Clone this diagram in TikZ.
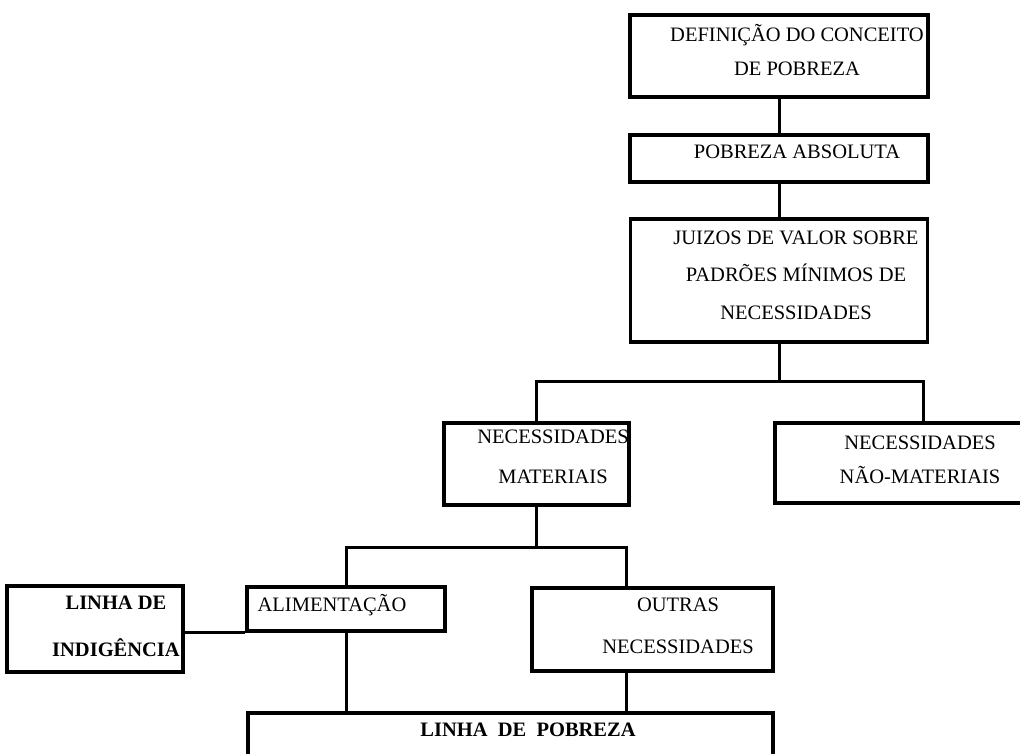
\documentclass[tikz,border=0pt]{standalone}
\usepackage{fontspec}
\setmainfont{Liberation Serif}
\usepackage{xcolor}

\begin{document}
\begin{tikzpicture}[x=1pt,y=-1pt]
    \tikzstyle{box}=[draw, line width=3.2pt, inner sep=0pt]
    \tikzstyle{txt}=[align=center, inner sep=0pt, font={\fontsize{20.5}{36}\selectfont}]
    \tikzstyle{conn}=[line width=3pt]
    \useasboundingbox (0,0) rectangle (1020,753);

    % boxes
    \node[box, minimum width=298pt, minimum height=82pt] (def) at (779,56) {};
    \node[box, minimum width=298pt, minimum height=47pt] (abs) at (779,158.5) {};
    \node[box, minimum width=297pt, minimum height=123pt] (juizos) at (779,280.5) {};
    \node[box, minimum width=185pt, minimum height=82pt] (mat) at (536.5,464) {};
    \node[box, minimum width=260pt, minimum height=80pt] (nmat) at (905,463) {};
    \node[box, minimum width=176pt, minimum height=86pt] (indig) at (95,629) {};
    \node[box, minimum width=198pt, minimum height=44pt] (alim) at (346,609) {};
    \node[box, minimum width=241pt, minimum height=83pt] (outras) at (652.5,629.5) {};
    \node[box, minimum width=525pt, minimum height=64pt] (pob) at (510.5,745) {};

    % texts
    \node[txt, font={\fontsize{20.5}{34}\selectfont}] (tdef) at (797,50) {DEFINIÇÃO DO CONCEITO\\DE POBREZA};
    \node[txt] (tabs) at (797,152) {POBREZA ABSOLUTA};
    \node[txt, font={\fontsize{20.5}{37.5}\selectfont}] (tjuizos) at (796,275) {JUIZOS DE VALOR SOBRE\\PADRÕES MÍNIMOS DE\\NECESSIDADES};
    \node[txt, font={\fontsize{20.5}{40}\selectfont}] (tmat) at (553,457) {NECESSIDADES\\MATERIAIS};
    \node[txt, font={\fontsize{20.5}{34}\selectfont}] (tnmat) at (920,460) {NECESSIDADES\\NÃO-MATERIAIS};
    \node[txt, font={\fontsize{20.5}{47}\selectfont\bfseries}] (tindig) at (116,626) {LINHA DE\\INDIGÊNCIA};
    \node[txt] (talim) at (332,605) {ALIMENTAÇÃO};
    \node[txt, font={\fontsize{20.5}{42}\selectfont}] (toutras) at (678,626) {OUTRAS\\NECESSIDADES};
    \node[txt, font={\fontsize{20.5}{36}\selectfont\bfseries}] (tpob) at (528,730) {LINHA\ \ DE\ \ POBREZA};

    % connectors
    \coordinate (bar1) at (779,381);
    \coordinate (bar2) at (536.5,547);
    \coordinate (o2) at ([xshift=96pt]outras.south west);
    \draw[conn] (def) -- (abs);
    \draw[conn] (abs) -- (juizos);
    \draw[conn] (juizos.south) -- (bar1);
    \draw[conn] (mat.north) |- (bar1) -| ([xshift=150pt]nmat.north west);
    \draw[conn] (mat.south) -- (bar2);
    \draw[conn] (alim.north) |- (bar2) -| ([xshift=96pt]outras.north west);
    \draw[conn] (alim.south west -| indig.east) -- (alim.south west);
    \draw[conn] (alim.south) -- (alim.south |- pob.north);
    \draw[conn] (o2) -- (o2 |- pob.north);
\end{tikzpicture}
\end{document}
